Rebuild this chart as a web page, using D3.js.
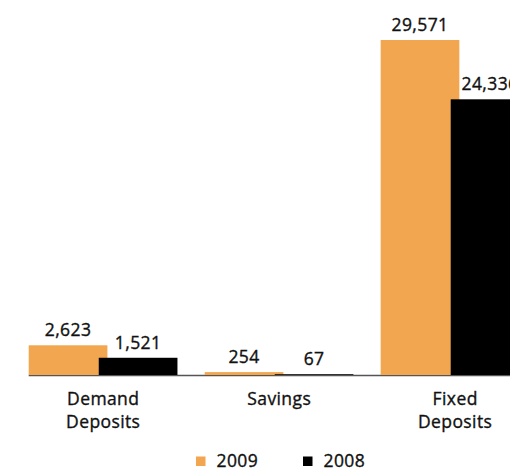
<!DOCTYPE html>
<html>
<head>
<meta charset="utf-8">
<script src="https://cdn.jsdelivr.net/npm/d3@7"></script>
<style>
  html, body { margin: 0; padding: 0; background: #fff; overflow: hidden; }
  svg { display: block; font-family: "Open Sans", sans-serif; }
  svg text { letter-spacing: 0.4px; stroke: #111; stroke-width: 0.35px; }
</style>
</head>
<body>
<div id="chart"></div>
<script>
// Deposits by type, two years
const categories = [["Demand", "Deposits"], ["Savings"], ["Fixed", "Deposits"]];
const series = ["2009", "2008"];
const values2009 = [2623, 254, 29571];
const values2008 = [1521, 67, 24336];

const width = 510;
const height = 470;
const baseY = 375;
const colors = { "2009": "#F2A64F", "2008": "#000000" };
const textColor = "#111";

const svg = d3.select("#chart").append("svg")
  .attr("width", width)
  .attr("height", height);

const x = d3.scaleBand()
  .domain(d3.range(categories.length))
  .range([28.7, 529.7])
  .paddingInner(0.153)
  .paddingOuter(0);

const y = d3.scaleLinear()
  .domain([0, d3.max(values2009.concat(values2008))])
  .range([baseY, 40]);

const bw = x.bandwidth();
const barW = bw * 0.528;
// the 2008 bar overlaps the 2009 bar slightly
const offset = { "2009": 0, "2008": bw * 0.47 };

const rows = [];
categories.forEach((c, i) => {
  rows.push({ i, key: "2009", v: values2009[i] });
  rows.push({ i, key: "2008", v: values2008[i] });
});

// axis line
svg.append("line")
  .attr("x1", x.range()[0]).attr("x2", width)
  .attr("y1", baseY + 0.5).attr("y2", baseY + 0.5)
  .attr("stroke", "#555").attr("stroke-width", 1.3);

svg.append("g").selectAll("rect")
  .data(rows)
  .join("rect")
  .attr("x", d => x(d.i) + offset[d.key])
  .attr("y", d => y(d.v))
  .attr("width", barW)
  .attr("height", d => baseY - y(d.v))
  .attr("fill", d => colors[d.key]);

// value labels
svg.append("g").selectAll("text")
  .data(rows)
  .join("text")
  .attr("x", d => x(d.i) + offset[d.key] + barW / 2)
  .attr("y", d => y(d.v) - 9)
  .attr("text-anchor", "middle")
  .attr("font-size", 17.5)
  .attr("fill", textColor)
  .text(d => d3.format(",")(d.v));

// category labels
const cat = svg.append("g").selectAll("text")
  .data(categories)
  .join("text")
  .attr("x", (d, i) => x(i) + bw / 2)
  .attr("y", 405)
  .attr("text-anchor", "middle")
  .attr("font-size", 17.5)
  .attr("fill", textColor);
cat.selectAll("tspan")
  .data(d => d)
  .join("tspan")
  .attr("x", function() { return this.parentNode.getAttribute("x"); })
  .attr("dy", (d, j) => j === 0 ? 0 : 22.5)
  .text(d => d);

// legend
const legX = [196, 303];
const leg = svg.append("g").selectAll("g")
  .data(series)
  .join("g")
  .attr("transform", (d, i) => `translate(${legX[i]},456.5)`);
leg.append("rect")
  .attr("width", 9.5).attr("height", 9.5)
  .attr("fill", d => colors[d]);
leg.append("text")
  .attr("x", 20.5).attr("y", 10.5)
  .attr("font-size", 17.5)
  .attr("fill", textColor)
  .text(d => d);
</script>
</body>
</html>
